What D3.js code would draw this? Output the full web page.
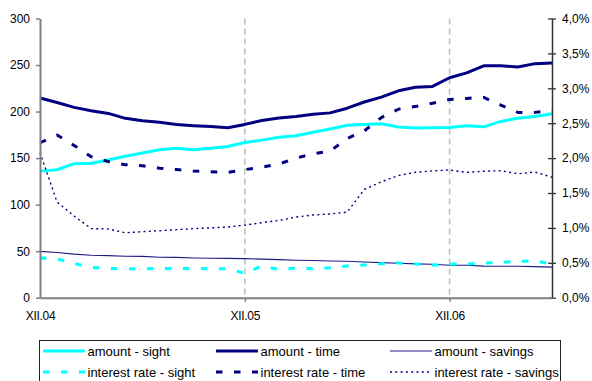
<!DOCTYPE html>
<html>
<head>
<meta charset="utf-8">
<script src="https://cdn.jsdelivr.net/npm/d3@7"></script>
<style>
  html, body { margin: 0; padding: 0; background: #fff; }
  svg { display: block; font-family: "Liberation Sans", Arial, sans-serif; }
</style>
</head>
<body>
<svg id="chart" width="592" height="381"></svg>
<script>
// Monthly categories, December 2004 to June 2007
const categories = [
  "XII.04", "I.05", "II.05", "III.05", "IV.05", "V.05", "VI.05", "VII.05", "VIII.05", "IX.05", "X.05", "XI.05",
  "XII.05", "I.06", "II.06", "III.06", "IV.06", "V.06", "VI.06", "VII.06", "VIII.06", "IX.06", "X.06", "XI.06",
  "XII.06", "I.07", "II.07", "III.07", "IV.07", "V.07", "VI.07"
];
const xTickLabels = ["XII.04", "XII.05", "XII.06"];
const leftTicks = [0, 50, 100, 150, 200, 250, 300];
const rightTicks = [0, 0.5, 1, 1.5, 2, 2.5, 3, 3.5, 4];

// Amounts (left axis)
const amountSight = [136, 137.5, 144, 144.5, 148, 152, 155.5, 159, 160.5, 159, 160.5, 162.5,
  166.8, 169.3, 172.3, 174, 177.7, 181.3, 185.2, 186.2, 187, 183.5, 182.3, 182.7,
  182.8, 184.7, 183.6, 189.4, 192.8, 194.8, 197.7];
const amountTime = [214.5, 209.8, 204.5, 200.9, 198, 192.7, 190.2, 188.6, 186, 184.8, 184, 182.7,
  186.2, 190.4, 193, 194.7, 197, 198.6, 203.6, 210.3, 215.5, 222.3, 226.2, 227,
  236.3, 241.6, 249.2, 249.2, 247.9, 251.5, 252.3];
const amountSavings = [49.8, 48.6, 46.8, 45.6, 45.2, 44.6, 44.4, 43.5, 43.3, 42.7, 42.4, 42.3,
  42, 41.4, 40.9, 40.3, 40, 39.5, 39.1, 38.4, 37.7, 37, 36.3, 36,
  34.9, 34.8, 33.9, 33.8, 33.8, 33.4, 32.8];

// Interest rates in % (right axis)
const rateSight = [0.57, 0.555, 0.49, 0.435, 0.42, 0.415, 0.415, 0.42, 0.42, 0.42, 0.415, 0.415,
  0.35, 0.455, 0.405, 0.425, 0.415, 0.43, 0.455, 0.47, 0.485, 0.497, 0.483, 0.468,
  0.48, 0.483, 0.497, 0.507, 0.52, 0.53, 0.48];
const rateTime = [2.22, 2.33, 2.18, 2.02, 1.95, 1.905, 1.89, 1.855, 1.835, 1.815, 1.805, 1.795,
  1.835, 1.87, 1.915, 2.0, 2.06, 2.1, 2.28, 2.39, 2.58, 2.70, 2.74, 2.785,
  2.84, 2.855, 2.87, 2.76, 2.655, 2.655, 2.68];
const rateSavings = [2.08, 1.37, 1.17, 0.99, 0.985, 0.93, 0.945, 0.96, 0.975, 0.99, 1.0, 1.012,
  1.04, 1.075, 1.107, 1.155, 1.185, 1.2, 1.226, 1.55, 1.66, 1.75, 1.797, 1.817,
  1.83, 1.795, 1.812, 1.82, 1.775, 1.8, 1.726];

const series = [
  { name: "amount - sight", values: amountSight, axis: "left", color: "#00ffff", width: 3, dash: null },
  { name: "amount - time", values: amountTime, axis: "left", color: "#000080", width: 3, dash: null },
  { name: "amount - savings", values: amountSavings, axis: "left", color: "#1c1c88", width: 1.1, dash: null },
  { name: "interest rate - sight", values: rateSight, axis: "right", color: "#00ffff", width: 3, dash: "6.5,11.5" },
  { name: "interest rate - time", values: rateTime, axis: "right", color: "#000080", width: 3, dash: "6.5,11.5" },
  { name: "interest rate - savings", values: rateSavings, axis: "right", color: "#000080", width: 1.4, dash: "2,3.3" }
];

const svg = d3.select("#chart");
const plot = { left: 40, right: 552, top: 18.5, bottom: 297.7 };

const x = d3.scalePoint().domain(categories).range([plot.left, plot.right]).padding(0);
const yL = d3.scaleLinear().domain([0, 300]).range([plot.bottom, plot.top]);
const yR = d3.scaleLinear().domain([0, 4]).range([plot.bottom, plot.top]);

// Year separators
svg.append("g").selectAll("line")
  .data(xTickLabels.slice(1))
  .join("line")
  .attr("x1", d => x(d)).attr("x2", d => x(d))
  .attr("y1", plot.top).attr("y2", plot.bottom)
  .attr("stroke", "#c0c0c0").attr("stroke-width", 1.6)
  .attr("stroke-dasharray", "6,4");

// Series lines
const lineFor = s => d3.line()
  .x((d, i) => x(categories[i]))
  .y(d => (s.axis === "left" ? yL : yR)(d));

svg.append("g").selectAll("path")
  .data(series)
  .join("path")
  .attr("d", s => lineFor(s)(s.values))
  .attr("fill", "none")
  .attr("stroke", s => s.color)
  .attr("stroke-width", s => s.width)
  .attr("stroke-linejoin", "round")
  .attr("stroke-dasharray", s => s.dash);

// Axes
const fmtPct = d => d.toFixed(1).replace(".", ",") + "%";

const gL = svg.append("g")
  .attr("transform", `translate(${plot.left},0)`)
  .call(d3.axisLeft(yL).tickValues(leftTicks).tickSizeInner(4).tickSizeOuter(0).tickPadding(6));

const gR = svg.append("g")
  .attr("transform", `translate(${plot.right},0)`)
  .call(d3.axisRight(yR).tickValues(rightTicks).tickFormat(fmtPct).tickSizeInner(4).tickSizeOuter(0).tickPadding(6));
gR.selectAll(".tick line").attr("x1", -4).attr("x2", 4);

const gX = svg.append("g")
  .attr("transform", `translate(0,${plot.bottom})`)
  .call(d3.axisBottom(x).tickValues(xTickLabels).tickSizeInner(4).tickSizeOuter(0).tickPadding(10));

[gL, gX].forEach(g => {
  g.select(".domain").attr("stroke", "#808080").attr("stroke-width", 2);
  g.selectAll(".tick line").attr("stroke", "#808080").attr("stroke-width", 1.5);
});
gR.select(".domain").attr("stroke", "#333").attr("stroke-width", 1.5);
gR.selectAll(".tick line").attr("stroke", "#333").attr("stroke-width", 1.3);

svg.selectAll(".tick text")
  .attr("font-size", 12)
  .attr("font-family", "'Liberation Sans', Arial, sans-serif")
  .attr("fill", "#000");
gX.selectAll(".tick text").attr("letter-spacing", "-0.3px");
gX.select(".tick line").attr("display", "none");

// Legend
const legend = svg.append("g");
legend.append("rect")
  .attr("x", 39.5).attr("y", 340.5)
  .attr("width", 521).attr("height", 44)
  .attr("fill", "#fff").attr("stroke", "#222").attr("stroke-width", 1);

const colX = [43, 216, 390];
const rowY = [351, 372];
const items = legend.selectAll("g.item")
  .data(series)
  .join("g")
  .attr("class", "item")
  .attr("transform", (s, i) => `translate(${colX[i % 3]},${rowY[Math.floor(i / 3)]})`);

items.append("line")
  .attr("x1", 0).attr("x2", 42)
  .attr("stroke", s => s.color)
  .attr("stroke-width", s => s.width)
  .attr("stroke-dasharray", s => s.dash);

items.append("text")
  .attr("x", 44.5).attr("y", 4.6)
  .attr("font-size", 13)
  .attr("fill", "#000")
  .text(s => s.name);
</script>
</body>
</html>
